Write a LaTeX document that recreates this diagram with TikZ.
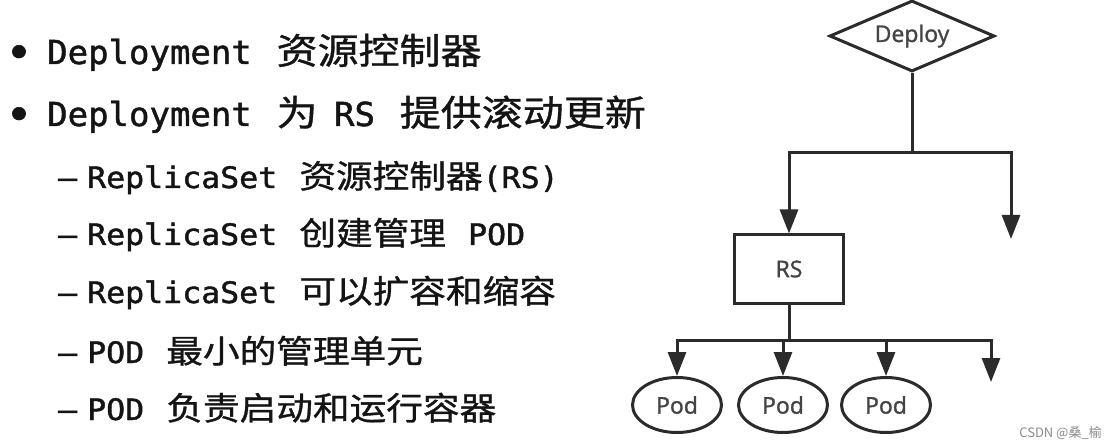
\documentclass[tikz,border=0pt]{standalone}
\usepackage{fontspec}
\setmainfont{Open Sans}
\newfontfamily\cjk[Scale=1.09, FakeStretch=1.14, FakeBold=1.0]{Noto Sans CJK SC}
\newfontfamily\lat[FakeStretch=1.03, FakeBold=1.4]{DejaVu Sans Mono}
\newfontfamily\latsub[FakeStretch=1.07, FakeBold=1.4]{DejaVu Sans Mono}
\newfontfamily\shapefont[FakeBold=1.2]{Open Sans}
\newfontfamily\marksans{Noto Sans CJK SC}
\usetikzlibrary{shapes.geometric}
\usetikzlibrary{arrows.meta}
\definecolor{ink}{HTML}{141414}
\definecolor{shapegray}{HTML}{2B2B2B}
\definecolor{labelgray}{HTML}{444444}
\newcommand*{\mainsz}{\fontsize{33}{38}\selectfont}
\newcommand*{\subsz }{\fontsize{29.5}{34}\selectfont}
\newcommand*{\gap   }{\hspace{0.75em}}
\newcommand*{\dash  }{\latsub –\kern10pt}

\begin{document}
\begin{tikzpicture}[x=1pt, y=-1pt,
        line/.style = {line width=3pt, draw=shapegray},
        tip/.style  = {line, -{Triangle[length=24pt, width=18pt]}},
        lbl/.style  = {text=labelgray, font=\shapefont\fontsize{23}{26}\selectfont},
        item/.style = {anchor=base west, inner sep=0pt, text=ink}]
    \useasboundingbox [fill=white] (0,0) rectangle (1116,446);
    % left: bullet list
        \node [anchor=base, inner sep=0pt, text=ink] (dota) at (19,68)  {\fontsize{44}{44}\selectfont\lat •};
        \node [anchor=base, inner sep=0pt, text=ink] (dotb) at (19,130) {\fontsize{44}{44}\selectfont\lat •};
        \node [item] (linea) at (47,64)  {\mainsz\lat Deployment\gap\cjk 资源控制器};
        \node [item] (lineb) at (47,126) {\mainsz\lat Deployment\gap\cjk 为\lat\hspace{0.5em}RS\gap\cjk 提供滚动更新};
        \node [item] (linec) at (58,188) {\subsz\dash ReplicaSet\gap\cjk 资源控制器\latsub(RS)};
        \node [item] (lined) at (58,245) {\subsz\dash ReplicaSet\gap\cjk 创建管理\latsub\gap POD};
        \node [item] (linee) at (58,303) {\subsz\dash ReplicaSet\gap\cjk 可以扩容和缩容};
        \node [item] (linef) at (58,363) {\subsz\dash POD\gap\cjk 最小的管理单元};
        \node [item] (lineg) at (58,420) {\subsz\dash POD\gap\cjk 负责启动和运行容器};
    % right: tree
        \node [diamond, aspect=2.3, minimum width=165pt, minimum height=71pt, inner sep=0pt, line, lbl] (deploy) at (912,36) {Deploy};
        \node [rectangle, minimum width=109pt, minimum height=68pt, line, lbl] (rs) at (789,269) {RS};
        \node [ellipse, minimum width=89pt, minimum height=55pt, inner sep=0pt, line, lbl] (poda) at (677,405) {Pod};
        \node [ellipse, minimum width=89pt, minimum height=55pt, inner sep=0pt, line, lbl] (podb) at (783,405) {Pod};
        \node [ellipse, minimum width=89pt, minimum height=55pt, inner sep=0pt, line, lbl] (podc) at (886,405) {Pod};
        \coordinate (deployfork) at (912,153);
        \coordinate (deployfree) at (1011,239);
        \coordinate (rsfork) at (789,340);
        \coordinate (rsfree) at (991,382);
        \draw [line] (deploy.south) -- (deployfork);
        \draw [tip] (deployfork) -| (rs.north);
        \draw [tip] (deployfork) -| (deployfree);
        \draw [line] (rs.south) -- (rsfork);
        \draw [tip] (rsfork) -| (poda.north);
        \draw [tip] (rsfork) -| (podb.north);
        \draw [tip] (rsfork) -| (podc.north);
        \draw [tip] (rsfork) -| (rsfree);
        %\draw [help lines] (0,0) grid (1116,446);
        \node [anchor=base east, inner sep=0pt, text=black!45, font=\marksans\fontsize{13}{15}\selectfont] (mark) at (1102,437) {CSDN @桑\_榆};
    \end{tikzpicture}
\end{document}
